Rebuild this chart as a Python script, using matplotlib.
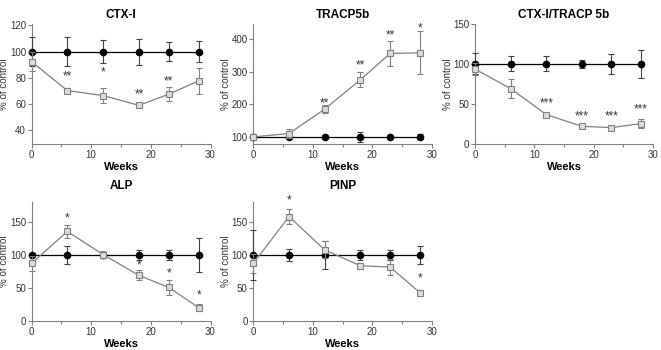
import numpy as np
import matplotlib
matplotlib.use("Agg")
from matplotlib import pyplot as plt
from matplotlib.ticker import MultipleLocator

plt.rcParams['font.family'] = ['Liberation Sans', 'DejaVu Sans']

##############################################
# Data
#

weeks = [0, 6, 12, 18, 23, 28]

# control group (always 100 %)
ctx_ctrl      = [100, 100, 100, 100, 100, 100]
ctx_ctrl_err  = [11, 11, 9, 10, 7.5, 8]
ctx_trt       = [92.4, 70.3, 66.5, 59, 67.5, 77.7]
ctx_trt_err   = [7.5, 2, 6, 1.5, 5.5, 10]
ctx_stars     = ["", "**", "*", "**", "**", ""]
ctx_star_y    = [0, 81, 84, 67, 77, 0]

tr_ctrl       = [100, 100, 100, 100, 100, 100]
tr_ctrl_err   = [0, 3, 2, 15, 2, 8]
tr_trt        = [100, 110, 185, 275, 356, 358]
tr_trt_err    = [2, 15, 13, 23, 38, 66]
tr_stars      = ["", "", "**", "**", "**", "*"]
tr_star_y     = [0, 0, 203, 318, 410, 432]

ratio_ctrl      = [100, 100, 100, 100, 100, 100]
ratio_ctrl_err  = [13, 9, 9, 5, 12.5, 17.5]
ratio_trt       = [93.3, 69, 36.7, 22, 20.4, 25.4]
ratio_trt_err   = [7, 11.5, 2, 2, 1.5, 5.5]
ratio_stars     = ["", "", "***", "***", "***", "***"]
ratio_star_y    = [0, 0, 50, 34.5, 34.5, 43]

alp_ctrl      = [100, 100, 100, 100, 100, 100]
alp_ctrl_err  = [0, 13.5, 5, 7, 7, 26]
alp_trt       = [87, 135.5, 100.5, 69, 50.8, 20.3]
alp_trt_err   = [12, 10, 5, 7.5, 11, 5]
alp_stars     = ["", "*", "", "*", "*", "*"]
alp_star_y    = [0, 155, 0, 83.6, 72.5, 38]

pinp_ctrl      = [100, 100, 100, 100, 100, 100]
pinp_ctrl_err  = [38, 9, 21, 7, 8, 13.5]
pinp_trt       = [87, 158, 107.6, 83.6, 81.6, 43]
pinp_trt_err   = [14.5, 11.5, 13, 4, 12, 4]
pinp_stars     = ["", "*", "", "", "", "*"]
pinp_star_y    = [0, 182, 0, 0, 0, 64]

##############################################
# Figure
#

W, H = 661, 350
fig = plt.figure(figsize=(W / 100, H / 100), dpi=100)

def px_axes(x0, x1, ytop, ybot):
    return fig.add_axes([x0 / W, 1 - ybot / H, (x1 - x0) / W, (ybot - ytop) / H])

GREY = "#808080"
TXT = "#333333"

def panel(ax, title, ctrl, ctrl_err, trt, trt_err, stars, star_y, ylim, ystep,
          title_pad):
    ax.errorbar(weeks, ctrl, yerr=ctrl_err, color="black", ecolor="#404040",
                marker="o", markersize=4.5, lw=0.9, elinewidth=0.8, capsize=2.5,
                capthick=0.8, zorder=3, clip_on=False)
    ax.errorbar(weeks, trt, yerr=trt_err, color=GREY, ecolor=GREY,
                marker="s", markersize=5, markerfacecolor="#dcdcdc",
                markeredgecolor=GREY, markeredgewidth=0.8, lw=0.9,
                elinewidth=0.8, capsize=2.5, capthick=0.8, zorder=4, clip_on=False)
    for w, s, y in zip(weeks, stars, star_y):
        if s:
            ax.text(w, y, s, ha="center", va="center", fontsize=8.5, color=TXT)
    ax.set_xlim(0, 30)
    ax.set_ylim(*ylim)
    ax.xaxis.set_major_locator(MultipleLocator(10))
    ax.xaxis.set_minor_locator(MultipleLocator(5))
    ax.yaxis.set_major_locator(MultipleLocator(ystep))
    for side in ("top", "right"):
        ax.spines[side].set_visible(False)
    for side in ("left", "bottom"):
        ax.spines[side].set_color(GREY)
        ax.spines[side].set_linewidth(0.8)
    ax.tick_params(which="major", length=3, width=0.8, color=GREY,
                   labelsize=7, labelcolor=TXT, pad=1)
    ax.tick_params(which="minor", length=2, width=0.8, color=GREY)
    ax.set_title(title, fontsize=8.5, fontweight="bold", pad=title_pad)
    ax.set_xlabel("Weeks", fontsize=8, fontweight="bold", labelpad=1.5)
    ax.set_ylabel("% of control", fontsize=7, color=TXT)
    bbox = ax.get_position()
    ax.yaxis.set_label_coords(-22 / (bbox.width * W), 0.5)

ax1 = px_axes(31.5, 210.5, 23.5, 144)
panel(ax1, "CTX-I", ctx_ctrl, ctx_ctrl_err, ctx_trt, ctx_trt_err,
      ctx_stars, ctx_star_y, (29.5, 121.5), 20, 4)

ax2 = px_axes(253.3, 431.7, 23.5, 144)
panel(ax2, "TRACP5b", tr_ctrl, tr_ctrl_err, tr_trt, tr_trt_err,
      tr_stars, tr_star_y, (78, 448), 100, 4)

ax3 = px_axes(475, 653, 23.5, 144)
panel(ax3, "CTX-I/TRACP 5b", ratio_ctrl, ratio_ctrl_err, ratio_trt, ratio_trt_err,
      ratio_stars, ratio_star_y, (0, 150), 50, 4)

ax4 = px_axes(31.5, 210.5, 202, 321)
panel(ax4, "ALP", alp_ctrl, alp_ctrl_err, alp_trt, alp_trt_err,
      alp_stars, alp_star_y, (0, 180), 50, 9.5)

ax5 = px_axes(253.3, 431.7, 202, 321)
panel(ax5, "PINP", pinp_ctrl, pinp_ctrl_err, pinp_trt, pinp_trt_err,
      pinp_stars, pinp_star_y, (0, 180), 50, 9.5)

fig.savefig("out.png", dpi=100)
